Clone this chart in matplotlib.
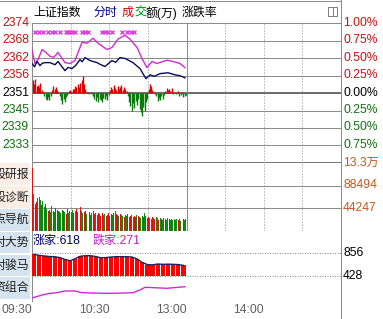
import matplotlib
matplotlib.use("Agg")
import matplotlib.pyplot as plt
import numpy as np
from matplotlib.lines import Line2D
from matplotlib.patches import Rectangle

# ---- data ----
base = 2351.0  # previous close
left_labels = ["2374", "2368", "2362", "2356", "2351", "2345", "2339", "2333"]
right_labels = ["1.00%", "0.75%", "0.50%", "0.25%", "0.00%", "0.25%", "0.50%", "0.75%"]
vol_labels = ["13.3万", "88494", "44247"]
vol_top = 132741
breadth_labels = ["856", "428"]
time_labels = ["09:30", "10:30", "13:00", "14:00"]
time_ticks = [0, 60, 120, 180]

# magenta line (minute, price)
mag_t = [0, 2.3, 5, 7.8, 11.7, 14, 17, 20.2, 25.6, 29.5, 33.4, 38.8, 42.7, 47.4, 51.3, 58.3,
         62.1, 66.8, 72.2, 76.1, 81.6, 85.4, 89.3, 93.2, 97.1, 101.7, 105, 109.5, 115, 118.8]
mag_p = [2365.3, 2360.9, 2362.5, 2365.6, 2364.3, 2363.3, 2363.0, 2364.6, 2361.2, 2360.9, 2361.9, 2368.0,
         2367.7, 2369.4, 2367.7, 2365.6, 2366.3, 2369.1, 2370.4, 2369.1, 2366.3, 2362.6, 2359.5,
         2361.6, 2360.9, 2361.6, 2362.0, 2361.6, 2360.9, 2359.5]

# navy index line (minute, price)
idx_t = [0, 2, 3.9, 6.2, 8, 10.1, 14, 17.9, 20.2, 23, 25.6, 28, 31.1, 34, 37.3, 39, 41.2, 45,
         50.5, 53, 56.7, 62.1, 65, 68.3, 72.2, 75, 78.4, 83.9, 88.5, 91.7, 95, 99.4, 105.6,
         111.1, 115, 118.8]
idx_p = [2360.9, 2359.8, 2361.6, 2360.2, 2361.0, 2361.2, 2361.2, 2360.5, 2361.6, 2360.0, 2358.5,
         2359.6, 2359.2, 2360.3, 2362.2, 2361.5, 2362.9, 2361.9, 2361.2, 2360.6, 2359.9, 2361.9,
         2361.3, 2362.9, 2362.6, 2362.0, 2361.2, 2359.2, 2355.8, 2357.1, 2356.6, 2357.5, 2357.8,
         2357.1, 2356.8, 2356.1]

# red/green strength bars around the previous close (index points)
strength = [4.5, 3.0, 4.8, 2.5, 2.7, 2.0, 3.4, 1.0, 0.5,
            -1.0, -2.0, -2.4, -1.5, -2.2, -1.0,
            1.0, 2.4, 1.5, 2.0, 1.0, 0.5,
            -1.0, -2.5, -3.7, -2.0, -3.0, -1.5, -0.8,
            0.7, 1.0, 0.5, 1.4,
            1.5, 2.4, 2.0, 3.0, 2.0, 3.4, 4.5, 5.8, 3.0,
            1.5, 0.5, 0.3, -0.3, 0.2, -0.3,
            -1.0, -2.0, -2.7, -1.5, -3.0, -2.0, -2.4, -3.1, -1.7, -2.0, -1.0, -2.4, -0.7,
            1.0, 2.0, 1.4, 2.7, 1.7, 1.0, 2.4, 1.5, 2.0, 2.7, 1.0, 2.0, 1.4, 0.7,
            -1.0, -3.0, -4.5, -6.1, -3.4, -5.1, -2.7, -4.1, -2.0, -5.5, -6.5, -7.8, -4.8, -6.1, -3.0, -2.0,
            1.4, 3.1, 2.4, 1.0,
            0.3, -0.3,
            -1.0, -2.7, -1.7, -2.4, -1.0, -2.0, -0.7,
            0.7, 1.7, 1.0, 1.4, 0.7, 1.7,
            -0.3, 0.3, -0.5, 0.3,
            0.7, -1.0, -0.7, 0.5, -1.4, -1.0, -0.7]

# event markers (minute)
mark_t = [2.3, 5.4, 8.5, 12.4, 15.5, 17.9, 21.7, 26.4, 28.0, 29.5, 31.1, 33.4, 38.8, 41.2, 43.5,
          54.4, 56.7, 59.0, 62.1, 69.9, 73.8, 76.9, 79.2]
mark_p = 2371.5

# turnover per minute (万)
volume = [123000,
          72200, 52700, 56600, 64400, 66400, 60500, 50800, 58600, 46800,
          52700, 42900, 39000, 41000, 37100, 48800, 39000, 37100, 44900, 41000,
          39000, 37100, 35100, 41000, 39000, 37100, 33200, 42900, 35100, 39000,
          37100, 41000, 35100, 39000, 42900, 37100, 41000, 46800, 39000, 35100,
          37100, 39000, 33200, 35100, 37100, 31200, 35100, 39000, 33200, 35100,
          31200, 35100, 33200, 29300, 35100, 31200, 33200, 29300, 31200, 35100,
          29300, 33200, 31200, 35100, 39000, 33200, 31200, 29300, 33200, 31200,
          29300, 27300, 31200, 29300, 33200, 27300, 29300, 31200, 27300, 29300,
          27300, 31200, 29300, 27300, 25400, 29300, 27300, 35100, 29300, 25400,
          27300, 25400, 23400, 27300, 25400, 23400, 27300, 25400, 21500, 25400,
          23400, 21500, 25400, 23400, 21500, 25400, 23400, 21500, 23400, 21500,
          23400, 21500, 23400, 21500, 23400, 19500, 21500, 23400, 21500, 23400]
vol_dir = ("RGRRGGGRGG" "RGRRGGRGRR" "GRGGRGRRGG" "RGRGRRGRGG" "RRGGRGGRRG" "GRGRRGGRGR"
           "RRGRGRRGRG" "GRGGRGRGGR" "RGRRGGRGRG" "RGGRGRGGRG" "RGRRGGRGRG" "GRGRRGGRGG")

# advancers, every 4 minutes
up_t = list(range(0, 120, 4))
up_n = [831, 810, 800, 790, 787, 770, 735, 710, 750, 795, 805, 805, 790, 765, 770,
        781, 787, 787, 787, 781, 745, 680, 640, 635, 651, 645, 648, 645, 640, 625]
# decliners line
dn_t = [0.8, 7.8, 14, 17.9, 25.6, 33.4, 38.8, 55.1, 62.9, 78.4, 83.9, 87.8, 104.9, 118.8]
dn_n = [24, 74, 106, 112, 149, 149, 117, 106, 106, 117, 167, 218, 199, 229]
up_now, dn_now = 618, 271

buttons = ["股研报", "股诊断", "点导航", "对大势", "对骏马", "资组合"]
button_colors = ["#fbeee4", "#fbeee4", "#d6e4f0", "#d6e4f0", "#d6e4f0", "#d6e4f0"]

# ---- layout ----
W, H = 383, 319
plt.rcParams["font.family"] = ["Liberation Sans", "Noto Sans CJK SC", "DejaVu Sans"]
fig = plt.figure(figsize=(W / 100, H / 100), dpi=100)
fig.patch.set_facecolor("white")
PX = 0.72
GRID = "#8c8c8c"
FS = 8.7


def box(x0, y0, x1, y1):
    return [x0 / W, 1 - y1 / H, (x1 - x0) / W, (y1 - y0) / H]


def fy(y):
    return 1 - y / H


def clean(ax):
    ax.set_xlim(0, 240)
    ax.set_xticks([])
    ax.set_yticks([])
    for s in ax.spines.values():
        s.set_visible(False)
    ax.patch.set_alpha(0)


def vgrid(ax):
    for t in [30, 60, 90, 150, 180, 210]:
        ax.axvline(t, color=GRID, lw=PX, ls=(0, (1, 2)), zorder=1)
    ax.axvline(120, color=GRID, lw=PX, zorder=1)
    ax.axvline(0, color=GRID, lw=PX, zorder=1)


# price panel
ax1 = fig.add_axes(box(32, 23, 341, 163))
clean(ax1)
ax1.set_ylim(base * 0.99, base * 1.01)
for k in range(4, -5, -1):
    lvl = base * (1 + k * 0.0025)
    if k == 0:
        ax1.axhline(lvl, color="#6e6e6e", lw=2 * PX, zorder=1)
    elif k == -4:
        ax1.axhline(lvl, color="#7a7a7a", lw=2 * PX, zorder=1)
    else:
        ax1.axhline(lvl, color=GRID, lw=PX, zorder=1)
vgrid(ax1)
s = np.array(strength)
st = np.arange(len(s)) + 0.5
ax1.vlines(st[s > 0], base, base + s[s > 0], color="#e00000", lw=1.0, zorder=2)
ax1.vlines(st[s < 0], base + s[s < 0], base, color="#0a7a0a", lw=1.0, zorder=2)
ax1.plot(mag_t, mag_p, color="#d22ad2", lw=1.0, zorder=3)
ax1.plot(idx_t, idx_p, color="#0a0a5a", lw=1.0, zorder=3)
ax1.plot(mark_t, [mark_p] * len(mark_t), ls="none", marker="x", ms=3, mew=1,
         color="#e040e0", zorder=3)

# volume panel
ax2 = fig.add_axes(box(32, 163, 341, 231))
clean(ax2)
ax2.set_ylim(0, vol_top)
for lvl in [vol_top / 3, vol_top * 2 / 3]:
    ax2.axhline(lvl, color=GRID, lw=PX, zorder=1)
ax2.axhline(0, color=GRID, lw=PX, zorder=1)
vgrid(ax2)
vcol = ["#e01010" if c == "R" else "#108a10" for c in vol_dir]
ax2.bar(np.arange(len(volume)) + 0.5, volume, width=0.75, color=vcol, lw=0, zorder=2)

# breadth panel
ax3 = fig.add_axes(box(32, 231, 341, 302))
clean(ax3)
ax3.set_ylim(-56, 1265)
ax3.axhline(856, color="#909090", lw=PX, ls=(0, (1, 1.5)), zorder=1)
ax3.axhline(428, color="#909090", lw=PX, ls=(0, (1, 1.5)), zorder=3)
ax3.axhline(-56, color=GRID, lw=PX)
ax3.axvline(0, color=GRID, lw=PX)
up = np.array(up_n)
ax3.bar(up_t, up - 428, bottom=428, width=3.3, align="edge", color="#ff0000", lw=0, zorder=2)
ax3.plot(np.array(up_t) + 1.6, up_n, color="#20205a", lw=1.0, zorder=3)
ax3.plot(dn_t, dn_n, color="#d02ad0", lw=1.0, zorder=3)

# ---- texts ----
price_y = [23 + i * 17.4 for i in range(8)]
for i, (ll, rl) in enumerate(zip(left_labels, right_labels)):
    col = "#c81010" if i < 4 else ("#000000" if i == 4 else "#107010")
    fig.text(29 / W, fy(price_y[i]), ll, color=col, fontsize=FS, ha="right", va="center")
    fig.text(343 / W, fy(price_y[i]), rl, color=col, fontsize=FS, ha="left", va="center")
for lab, y in zip(vol_labels, [163, 185.5, 208]):
    fig.text(343 / W, fy(y), lab, color="#c05a1a", fontsize=FS, ha="left", va="center")
for lab, y in zip(breadth_labels, [253, 276]):
    fig.text(343 / W, fy(y), lab, color="#000000", fontsize=FS, ha="left", va="center")
for lab, t in zip(time_labels, time_ticks):
    x = 32 + t * 309 / 240
    fig.text(x / W, fy(310), lab, color="#606060", fontsize=FS, ha="right", va="center")

fig.text(33 / W, fy(241), f"涨家:{up_now}", color="#000070", fontsize=FS, va="center")
fig.text(93 / W, fy(241), f"跌家:{dn_now}", color="#c020c0", fontsize=FS, va="center")

ty = fy(13)
fig.text(33 / W, ty, "上证指数", color="#000000", fontsize=8.6, va="center")
fig.text(94 / W, ty, "分时", color="#000080", fontsize=8.6, va="center")
fig.text(122 / W, ty, "成", color="#d00000", fontsize=8.6, va="center")
fig.text(134 / W, ty, "交", color="#008000", fontsize=8.6, va="center")
fig.text(146 / W, ty, "额(万)", color="#000000", fontsize=8.6, va="center")
fig.text(182 / W, ty, "涨跌率", color="#000000", fontsize=8.6, va="center")

# left buttons
for i, (lab, c) in enumerate(zip(buttons, button_colors)):
    y0 = 163 + i * 22.8
    fig.patches.append(Rectangle((0, fy(y0 + 22)), 30 / W, 21.6 / H, transform=fig.transFigure,
                                 facecolor=c, edgecolor="none"))
    fig.text(29 / W, fy(y0 + 11.5), lab, color="#202020", fontsize=8.6, ha="right", va="center")

# frame lines and icon
fig.lines.append(Line2D([341 / W, 341 / W], [0, 1], transform=fig.transFigure, color=GRID, lw=PX))
fig.lines.append(Line2D([0, 341 / W], [fy(1), fy(1)], transform=fig.transFigure, color=GRID, lw=PX))
fig.patches.append(Rectangle((328 / W, fy(16)), 9 / W, 9 / H, transform=fig.transFigure,
                             facecolor="white", edgecolor="#808080", lw=PX))
fig.lines.append(Line2D([333 / W, 333 / W], [fy(16), fy(7)], transform=fig.transFigure,
                        color="#808080", lw=PX))

fig.savefig("out.png", dpi=100)
